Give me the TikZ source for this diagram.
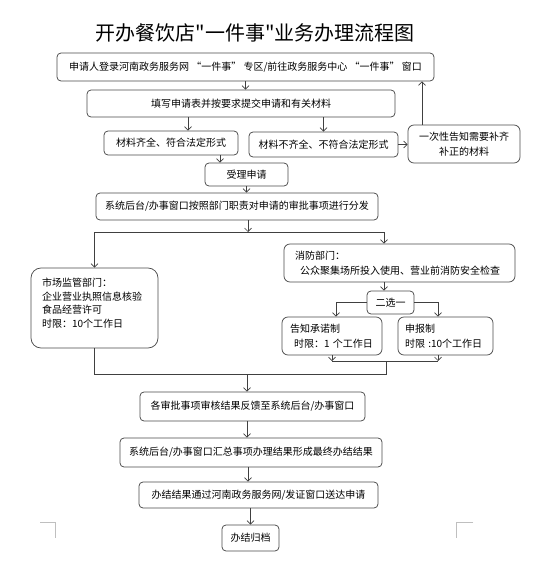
\documentclass[tikz,border=0pt]{standalone}
\usepackage{fontspec}
\setmainfont{Noto Sans CJK SC}
\newfontfamily\titlefont{Noto Sans CJK SC}
\usetikzlibrary{arrows.meta,calc}
\definecolor{bc}{HTML}{4A4A4A}
\definecolor{lc}{HTML}{404040}
\begin{document}
\begin{tikzpicture}[x=1pt,y=-1pt,
  box/.style={draw=bc, line width=0.75pt, rounded corners=4pt, inner sep=0pt,
    font=\fontsize{10}{15}\selectfont, align=center, text=black},
  arr/.style={draw=lc, line width=0.7pt, -{Straight Barb[length=3.5pt,width=7pt]}},
  ln/.style={draw=lc, line width=0.7pt},
  cmark/.style={draw=black!25, line width=0.8pt}]
\useasboundingbox (0,0) rectangle (554,562);
\fill[white] (0,0) rectangle (554,562);
\node[font=\titlefont\fontsize{20}{24}\selectfont] (title) at (255,33) {开办餐饮店"一件事"业务办理流程图};
\node[box, minimum width=377pt, minimum height=28pt] (b1) at (245.5,67) {申请人登录河南政务服务网 “一件事” 专区/前往政务服务中心 “一件事” 窗口};
\node[box, minimum width=308pt, minimum height=27pt] (b2) at (241,103.5) {填写申请表并按要求提交申请和有关材料};
\node[box, minimum width=134pt, minimum height=24pt] (b3a) at (171,143) {材料齐全、符合法定形式};
\node[box, minimum width=149pt, minimum height=25pt] (b3b) at (323.5,144.5) {材料不齐全、不符合法定形式};
\node[box, rounded corners=6pt, minimum width=112pt, minimum height=38pt] (b3c) at (464,144) {一次性告知需要补齐\\补正的材料};
\node[box, minimum width=83pt, minimum height=23pt] (b4) at (246.5,174.5) {受理申请};
\node[box, minimum width=282pt, minimum height=27pt] (b5) at (237,206.5) {系统后台/办事窗口按照部门职责对申请的审批事项进行分发};
\node[box, rounded corners=10pt, minimum height=80pt, text width=105pt, inner xsep=11pt, align=left, font=\fontsize{10}{13.7}\selectfont] (b6) at (94.5,308) {市场监管部门：\\企业营业执照信息核验\\食品经营许可\\时限：10个工作日\\[-3pt]\mbox{}};
\node[box, rounded corners=6pt, minimum height=38pt, text width=209pt, inner xsep=11pt, align=left] (b7) at (399.5,263) {消防部门：\\\hspace*{5pt}公众聚集场所投入使用、营业前消防安全检查};
\node[box, minimum width=47pt, minimum height=23pt] (b8) at (390.5,302.5) {二选一};
\node[box, rounded corners=6pt, minimum height=38pt, text width=84pt, inner xsep=8pt, align=left] (b9) at (332,336) {告知承诺制\\\mbox{\hspace*{4pt}时限：1 个工作日}};
\node[box, rounded corners=6pt, minimum height=38pt, text width=81pt, inner xsep=7pt, align=left] (b10) at (445.5,336) {\mbox{申报制}\\\mbox{时限 :10个工作日}};
\node[box, minimum width=225pt, minimum height=29pt] (b11) at (252.5,406.5) {各审批事项审核结果反馈至系统后台/办事窗口};
\node[box, minimum width=262pt, minimum height=29pt] (b12) at (251,452.5) {系统后台/办事窗口汇总事项办理结果形成最终办结结果};
\node[box, minimum width=239pt, minimum height=26pt] (b13) at (258.5,495) {办结结果通过河南政务服务网/发证窗口送达申请};
\node[box, minimum width=57pt, minimum height=26pt] (b14) at (250.5,538) {办结归档};
% connectors
\draw[arr] (b1.south) -- (b1.south |- b2.north);
\draw[arr] ([xshift=-53pt]b2.south) -- ([xshift=-53pt]b2.south |- b3a.north);
\draw[arr] (b3b.north |- b2.south) -- (b3b.north);
\draw[arr] (b3b.east) -- (b3b.east -| b3c.west);
\draw[arr] ([xshift=-42pt]b3c.north) -- ([xshift=-42pt]b3c.north |- b1.south);
\draw[arr] ([xshift=49pt]b3a.south) -- ([xshift=49pt]b3a.south |- b4.north);
\draw[arr] (b4.south) -- (b4.south |- b5.north);
\coordinate (sp) at (248,232);
\draw[arr] (b5.south -| sp) -- (sp);
\draw[arr] (sp) -| (b6.north);
\draw[arr] (sp) -| ([xshift=-15.5pt]b7.north);
\draw[arr] ([xshift=-15.5pt]b7.south) -- ([xshift=-15.5pt]b7.south |- b8.north);
\draw[arr] (b8.west) -| ([xshift=4pt]b9.north);
\draw[arr] (b8.east) -| ([xshift=-7.5pt]b10.north);
\coordinate (mg) at (386,361);
\coordinate (jn) at (386,374);
\draw[arr] (b9.south) -- (b9.south |- mg);
\draw[arr] ([xshift=-7.5pt]b10.south) -- ([xshift=-7.5pt]b10.south |- mg);
\draw[ln] (b9.south |- mg) -- ([xshift=-7.5pt]b10.south |- mg);
\draw[ln] (mg) -- (jn) -- (jn -| b6.south) -- (b6.south);
\draw[arr] ([xshift=-5.5pt]b11.north |- jn) -- ([xshift=-5.5pt]b11.north);
\draw[arr] ([xshift=-5.5pt]b11.south) -- ([xshift=-5.5pt]b11.south |- b12.north);
\draw[arr] ([xshift=-3pt]b12.south) -- ([xshift=-3pt]b12.south |- b13.north);
\draw[arr] (b14.north |- b13.south) -- (b14.north);
% page corner marks
\draw[cmark] (40,522) -- (55,522) -- (55,538);
\draw[cmark] (473,522) -- (456,522) -- (456,538);
\end{tikzpicture}
\end{document}
